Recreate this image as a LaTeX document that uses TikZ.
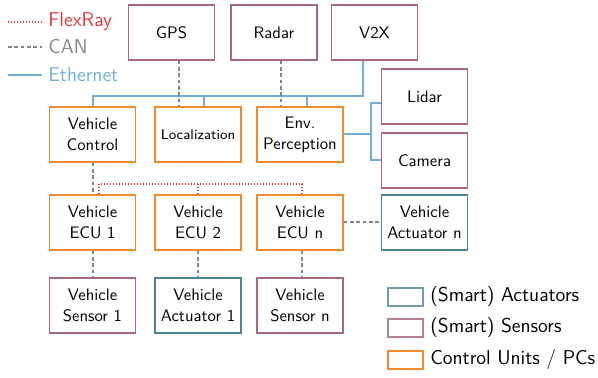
\documentclass[tikz,border=0pt]{standalone}
\usetikzlibrary{calc}
\definecolor{cuor}{HTML}{EE8A2E}
\definecolor{sensc}{HTML}{A8697C}
\definecolor{actc}{HTML}{4E8496}
\definecolor{ethc}{HTML}{72AEDA}
\definecolor{canc}{HTML}{858585}
\definecolor{flexc}{HTML}{E23A36}
\tikzset{
  box/.style={draw, line width=0.8pt, minimum width=51.6pt, minimum height=33pt, inner sep=0pt, align=center, font=\sffamily\fontsize{10}{12.6}\selectfont},
  cu/.style={box, draw=cuor},
  sens/.style={box, draw=sensc},
  act/.style={box, draw=actc},
  eth/.style={draw=ethc, line width=1.2pt},
  can/.style={draw=canc, line width=1.2pt, dash pattern=on 2.2pt off 1.6pt},
  flex/.style={draw=flexc, line width=1.2pt, dash pattern=on 0.7pt off 1.1pt},
  legtext/.style={anchor=west, inner sep=0pt, font=\sffamily\fontsize{12}{14}\selectfont},
  legbox/.style={draw, line width=0.8pt, minimum width=21pt, minimum height=10.8pt, inner sep=0pt}
}
\begin{document}
\begin{tikzpicture}[x=0.6pt, y=-0.6pt]
\useasboundingbox (0,0) rectangle (598,378);
% top row sensors
\node[sens] (gps) at (171.5,32.5) {GPS};
\node[sens] (radar) at (274,32.5) {Radar};
\node[sens] (v2x) at (374.5,32.5) {V2X};
\node[sens] (lidar) at (424.5,96.5) {Lidar};
\node[sens] (camera) at (424.5,160.5) {Camera};
% control row
\node[cu] (vc) at (92.5,134.5) {Vehicle\\Control};
\node[cu, font=\sffamily\fontsize{8.4}{10}\selectfont] (loc) at (198,134.5) {Localization};
\node[cu] (env) at (300,134.5) {Env.\\Perception};
% ECU row
\node[cu] (ecu1) at (92.5,222.5) {Vehicle\\ECU 1};
\node[cu] (ecu2) at (198,222.5) {Vehicle\\ECU 2};
\node[cu] (ecun) at (300,222.5) {Vehicle\\ECU n};
\node[act] (actn) at (424.5,222.5) {Vehicle\\Actuator n};
% bottom row
\node[sens] (sens1) at (92.5,305.5) {Vehicle\\Sensor 1};
\node[act] (act1) at (198,305.5) {Vehicle\\Actuator 1};
\node[sens] (sensn) at (300,305.5) {Vehicle\\Sensor n};
% coordinates
\coordinate (bus) at (0,96);
\coordinate (sp) at (371,0);
\coordinate (fl) at (0,184);
% Ethernet
\draw[eth] ([xshift=-6.9pt]v2x.south) |- (vc.north |- bus) -- (vc.north);
\draw[eth] ([xshift=3.6pt]loc.north) -- ([xshift=3.6pt]loc.north |- bus);
\draw[eth] ([xshift=4.2pt]env.north) -- ([xshift=4.2pt]env.north |- bus);
\draw[eth] (env.east) -- (env.east -| sp);
\draw[eth] ([yshift=-3.9pt]lidar.west) -| (sp |- camera.west) -- (camera.west);
% CAN
\draw[can] ([xshift=4.5pt]gps.south) -- ([xshift=4.5pt]gps.south |- loc.north);
\draw[can] ([xshift=4.2pt]radar.south) -- ([xshift=4.2pt]radar.south |- env.north);
\draw[can] (vc.south) -- (ecu1.north);
\draw[can] (ecu1.south) -- (sens1.north);
\draw[can] (ecu2.south) -- (act1.north);
\draw[can] ([xshift=1.2pt]ecun.south) -- ([xshift=1.2pt]sensn.north);
\draw[can] (ecun.east) -- (actn.west);
% FlexRay
\draw[flex] ([xshift=3.9pt]ecu1.north) |- ([xshift=1.2pt]ecun.north |- fl) -- ([xshift=1.2pt]ecun.north);
\draw[flex] (ecu2.north) -- (ecu2.north |- fl);
% legend top
\coordinate (l1a) at (8,22); \coordinate (l1b) at (42,22);
\coordinate (l2a) at (8,47); \coordinate (l2b) at (42,47);
\coordinate (l3a) at (8,75); \coordinate (l3b) at (42,75);
\draw[flex] (l1a) -- (l1b);
\draw[can] (l2a) -- (l2b);
\draw[eth] (l3a) -- (l3b);
\node[legtext, text=flexc] (tfl) at (48,22) {FlexRay};
\node[legtext, text=canc] (tcan) at (48,47) {CAN};
\node[legtext, text=ethc] (teth) at (48,75) {Ethernet};
% legend bottom
\node[legbox, draw=actc!80] (lb1) at (405.5,297) {};
\node[legbox, draw=sensc!85] (lb2) at (405.5,328) {};
\node[legbox, draw=cuor] (lb3) at (405.5,360) {};
\node[legtext] (lt1) at (430,297) {(Smart) Actuators};
\node[legtext] (lt2) at (430,328) {(Smart) Sensors};
\node[legtext] (lt3) at (430,360) {Control Units / PCs};
\end{tikzpicture}
\end{document}
